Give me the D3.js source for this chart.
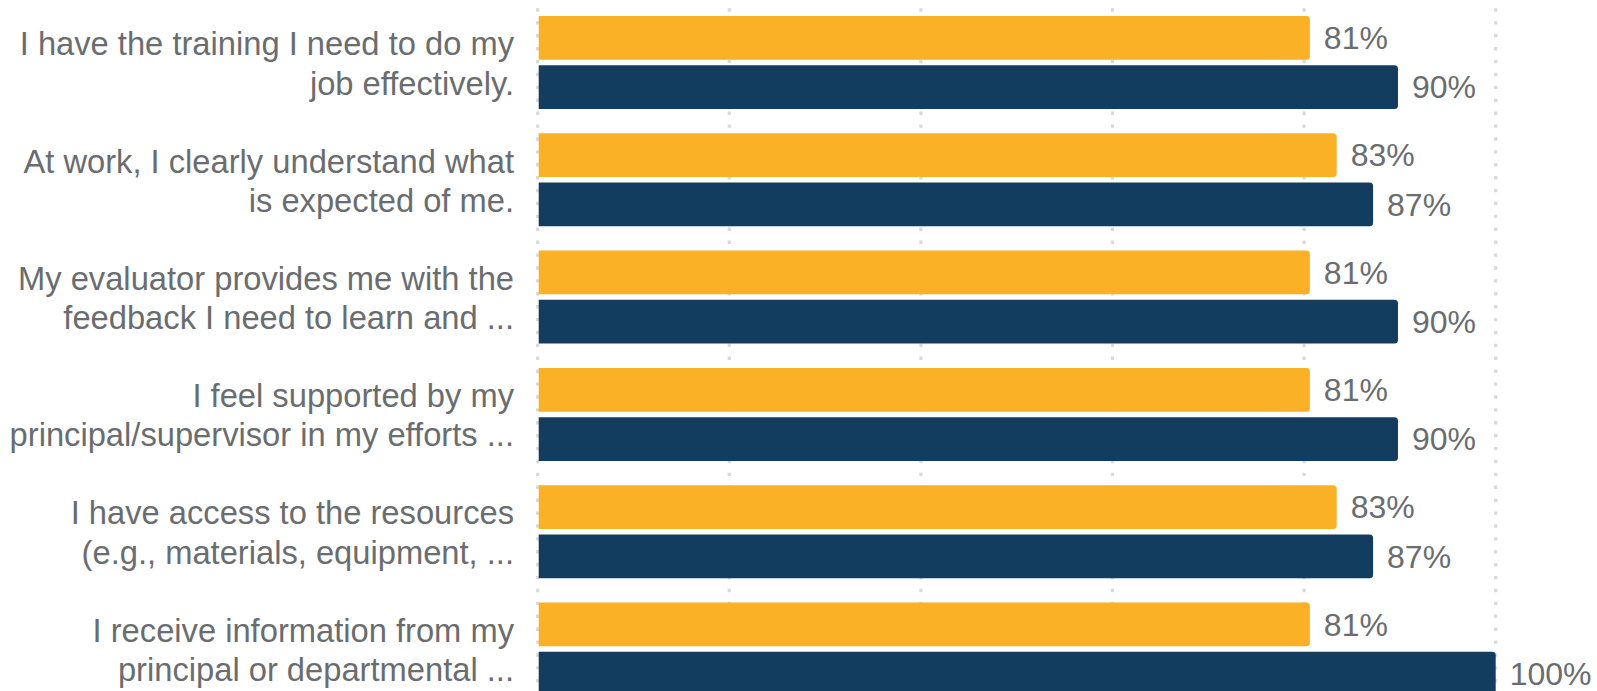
<!DOCTYPE html>
<html>
<head>
<meta charset="utf-8">
<script src="https://cdn.jsdelivr.net/npm/d3@7"></script>
<style>
  html, body { margin: 0; padding: 0; background: #ffffff; overflow: hidden; }
  svg { display: block; }
</style>
</head>
<body>
<div id="chart"></div>
<script>
// ---- Data ----
const categories = [
  "I have the training I need to do my job effectively.",
  "At work, I clearly understand what is expected of me.",
  "My evaluator provides me with the feedback I need to learn and ...",
  "I feel supported by my principal/supervisor in my efforts ...",
  "I have access to the resources (e.g., materials, equipment, ...",
  "I receive information from my principal or departmental ..."
];
const categoryLines = [
  ["I have the training I need to do my", "job effectively."],
  ["At work, I clearly understand what", "is expected of me."],
  ["My evaluator provides me with the", "feedback I need to learn and ..."],
  ["I feel supported by my", "principal/supervisor in my efforts ..."],
  ["I have access to the resources", "(e.g., materials, equipment, ..."],
  ["I receive information from my", "principal or departmental ..."]
];
const seriesNames = ["Series 1", "Series 2"];
const series1Values = [80.6, 83.4, 80.6, 80.6, 83.4, 80.6];
const series2Values = [89.8, 87.2, 89.8, 89.8, 87.2, 100];
const seriesColors = ["#FBB126", "#133D5E"];
const xTicks = [0, 20, 40, 60, 80, 100];

// ---- Layout ----
const W = 1597, H = 691;
const svg = d3.select("#chart").append("svg").attr("width", W).attr("height", H);

const x = d3.scaleLinear().domain([0, 100]).range([537.7, 1495.7]);
const y = d3.scaleBand().domain(categories).range([16, 695.5]).paddingInner(0.207).paddingOuter(0);
const yInner = d3.scaleBand().domain(seriesNames).range([0, y.bandwidth()]).paddingInner(0.112);

const font = "'Liberation Sans', Arial, Helvetica, sans-serif";
const textColor = "#6a6d70";

// ---- Gridlines (dotted) ----
svg.append("g").selectAll("line").data(xTicks).join("line")
  .attr("x1", d => x(d)).attr("x2", d => x(d))
  .attr("y1", 8.3).attr("y2", H + 10)
  .attr("stroke", "#d9d9d9")
  .attr("stroke-width", 3.2)
  .attr("stroke-dasharray", "3.4,9.5");

// ---- Bars ----
const rows = categories.map((c, i) => ({
  cat: c,
  lines: categoryLines[i],
  vals: [
    { name: seriesNames[0], v: series1Values[i], color: seriesColors[0] },
    { name: seriesNames[1], v: series2Values[i], color: seriesColors[1] }
  ]
}));

function barPath(x0, y0, w, h, r) {
  r = Math.min(r, w, h / 2);
  return `M${x0},${y0}H${x0 + w - r}Q${x0 + w},${y0} ${x0 + w},${y0 + r}` +
         `V${y0 + h - r}Q${x0 + w},${y0 + h} ${x0 + w - r},${y0 + h}H${x0}Z`;
}

const groups = svg.append("g").selectAll("g").data(rows).join("g")
  .attr("transform", d => `translate(0,${y(d.cat)})`);

groups.selectAll("path").data(d => d.vals).join("path")
  .attr("d", d => barPath(x(0) + 1, yInner(d.name), x(d.v) - x(0) - 1, yInner.bandwidth(), 3.5))
  .attr("fill", d => d.color);

const fmt = v => d3.format(".0f")(v) + "%";
groups.selectAll("text.val").data(d => d.vals).join("text")
  .attr("class", "val")
  .attr("x", d => x(d.v) + 14)
  .attr("y", d => yInner(d.name) + yInner.bandwidth() / 2)
  .attr("dy", "0.35em")
  .attr("font-family", font)
  .attr("font-size", 32)
  .attr("fill", textColor)
  .text(d => fmt(d.v));

// ---- Category labels ----
const labX = 514;
const lab = groups.append("text")
  .attr("text-anchor", "end")
  .attr("font-family", font)
  .attr("font-size", 32.7)
  .attr("fill", textColor)
  .attr("x", labX)
  .attr("y", y.bandwidth() / 2);

lab.selectAll("tspan").data(d => d.lines).join("tspan")
  .attr("x", labX)
  .attr("dy", (d, i) => i === 0 ? "-0.22em" : "1.2em")
  .text(d => d);
</script>
</body>
</html>
